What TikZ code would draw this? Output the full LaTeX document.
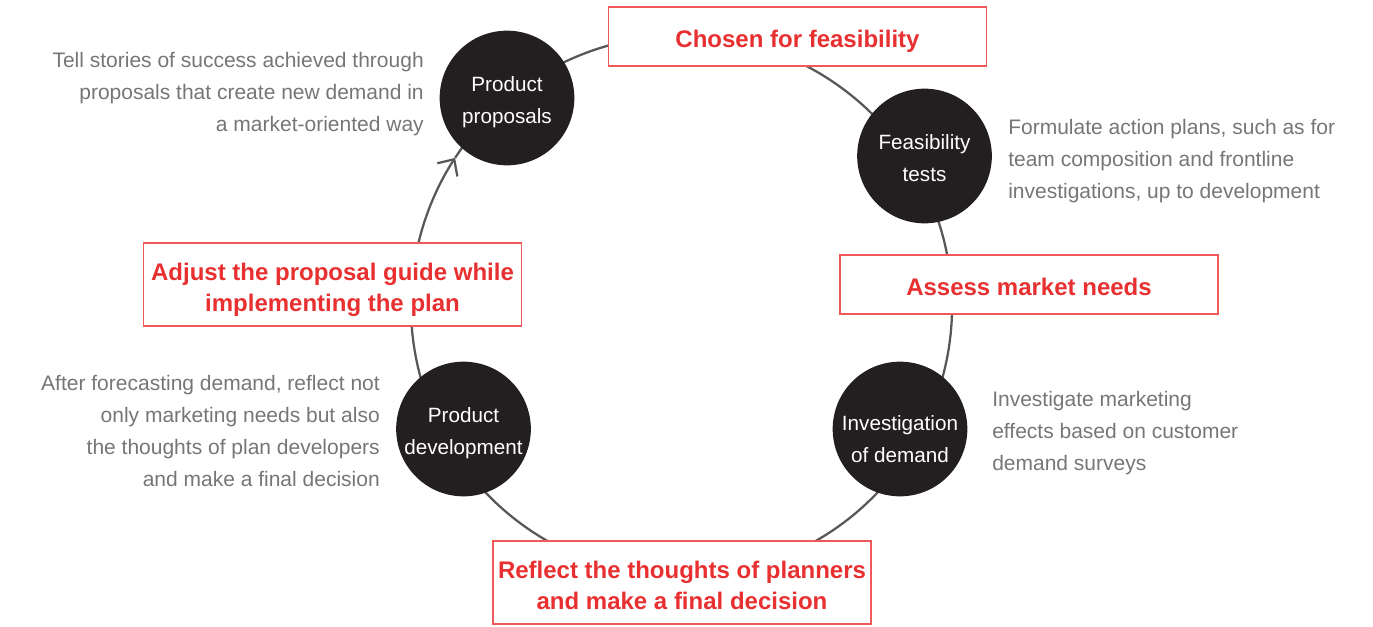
\documentclass[tikz,border=0pt]{standalone}
\usepackage{fontspec}
\setmainfont{Liberation Sans}
\usepackage{tikz}
\usetikzlibrary{arrows.meta}
\definecolor{CycleDot}{RGB}{35,31,32}
\definecolor{CycleRing}{RGB}{88,88,88}
\definecolor{CycleBoxRed}{RGB}{238,90,90}
\definecolor{CycleTextRed}{RGB}{232,48,48}
\definecolor{CycleNote}{RGB}{118,118,118}

\begin{document}
\begin{tikzpicture}[x=0.75pt,y=0.75pt,
  lift/.style={execute at begin node={\rule{0pt}{#1}},execute at end node={\rule[-5pt]{0pt}{5pt}}},
  dot/.style={lift=#1,circle,fill=CycleDot,text=white,minimum size=101pt,inner sep=0pt,align=center,font=\fontsize{15.5}{24}\selectfont},
  dot/.default=43.2pt,
  tag/.style={lift=21.8pt,draw=CycleBoxRed,line width=1pt,fill=white,text=CycleTextRed,minimum width=283.5pt,minimum height=#1,inner sep=0pt,align=center,font=\fontsize{18}{23.25}\selectfont\bfseries},
  note/.style={lift=#1,text=CycleNote,inner sep=0pt,font=\fontsize{15.75}{24}\selectfont},
  ring/.style={draw=CycleRing,line width=1.7pt}]
\useasboundingbox (0,0) rectangle (1373,626);
\coordinate (hub) at (681.5,320);
% the cycle
\draw[ring] ([shift={(146.8:202.9pt)}]hub) arc[start angle=146.8,end angle=-193.5,radius=202.9pt];
\draw[ring,-{Straight Barb[length=9.5pt,width=18pt]}] ([shift={(166.5:202.9pt)}]hub)
   arc[start angle=166.5,end angle=146.8,radius=202.9pt];
\foreach \nm/\x/\y/\txt in %
{pp/507/528/{Product\\proposals},ft/924.5/470/{Feasibility\\tests},
 pd/463.5/197/{Product\\development}} {
   \node[dot] (\nm) at (\x,\y) {\txt};
}
   \node[dot=55pt,inner sep=-4pt] (id) at (900,197) {Investigation\\of demand};
   \node[tag=44.25pt] (feas) at (797.5,589.5) {Chosen for feasibility};
   \node[tag=44.25pt] (needs) at (1029,341.5) {Assess market needs};
   \node[tag=62.25pt,lift=45pt] (reflect) at (682,43.5) {Reflect the thoughts of planners\\and make a final decision};
   \node[tag=62.25pt,lift=45pt] (adjust) at (332.5,341.5) {Adjust the proposal guide while\\implementing the plan};
% side notes
   \node[note=64.3pt,anchor=east,align=right] (ppnote) at (424,534) {Tell stories of success achieved through\\proposals that create new demand in\\a market-oriented way};
   \node[note=64.3pt,anchor=west,align=left] (ftnote) at (1008,467.5) {Formulate action plans, such as for\\team composition and frontline\\investigations, up to development};
   \node[note=64.3pt,anchor=west,align=left] (idnote) at (992,195) {Investigate marketing\\effects based on customer\\demand surveys};
   \node[note=88.3pt,anchor=east,align=right] (pdnote) at (380,195) {After forecasting demand, reflect not\\only marketing needs but also\\the thoughts of plan developers\\and make a final decision};
\end{tikzpicture}
\end{document}
